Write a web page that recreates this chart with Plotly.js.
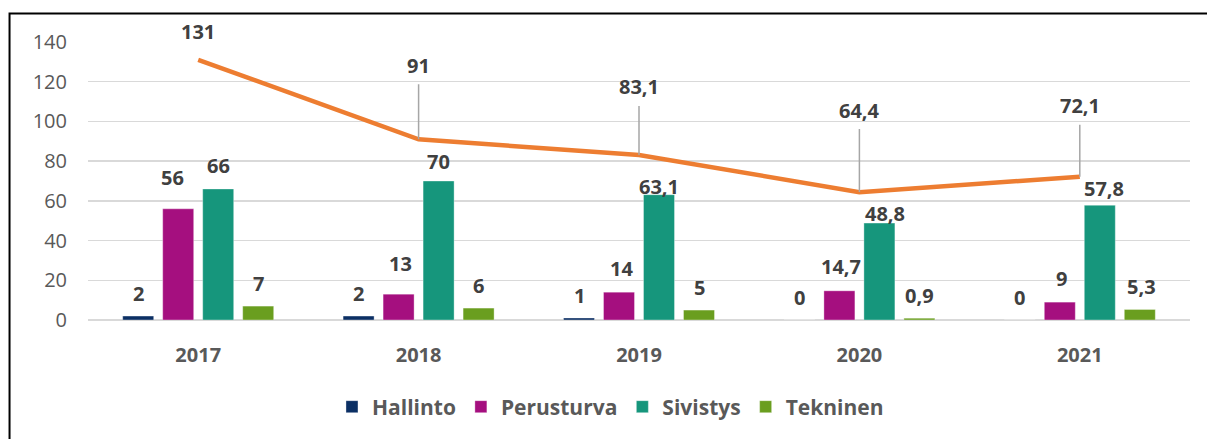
<!DOCTYPE html>
<html>
<head>
<meta charset="utf-8">
<script src="https://cdn.plot.ly/plotly-3.0.1.min.js"></script>
<style>
  html, body { margin: 0; padding: 0; background: #fff; }
  #chart { width: 1207px; height: 439px; }
</style>
</head>
<body>
<div id="chart"></div>
<script>
// ---- data ----
const years = ["2017", "2018", "2019", "2020", "2021"];
const seriesNames = ["Hallinto", "Perusturva", "Sivistys", "Tekninen"];
const hallinto   = [2, 2, 1, 0, 0];
const perusturva = [56, 13, 14, 14.7, 9];
const sivistys   = [66, 70, 63.1, 48.8, 57.8];
const tekninen   = [7, 6, 5, 0.9, 5.3];
const yhteensa   = [131, 91, 83.1, 64.4, 72.1];

// ---- styles ----
const colors = ["#0B2F64", "#A50F7F", "#16967C", "#6A9E1F"];
const lineColor = "#ED7D31";
const FONT = "'Open Sans', 'Lato', sans-serif";
const labelColor = "#404040";
const axisTextColor = "#595959";

const seriesValues = [hallinto, perusturva, sivistys, tekninen];

const traces = seriesValues.map((vals, s) => ({
  type: "bar",
  name: seriesNames[s],
  x: years,
  y: vals,
  marker: { color: colors[s], line: { color: "rgba(255,255,255,0.35)", width: 1 } },
  hoverinfo: "skip"
}));

traces.push({
  type: "scatter",
  mode: "lines",
  name: "Yhteensä",
  x: years,
  y: yhteensa,
  line: { color: lineColor, width: 4.5 },
  showlegend: false,
  hoverinfo: "skip"
});

const fmt = v => String(v).replace(".", ",");

// label placement tweaks (pixels) for bar labels, keyed "series-yearIndex": [dx, dy]
const barLabelTweak = {
  "1-0": [-6, 8], "1-1": [2, 8], "2-1": [0, -3.5],
  "2-2": [0, -15], "2-3": [6, -13], "2-4": [4, -6],
  "1-2": [2, 1], "1-3": [2, 1], "1-4": [2, 1], "3-4": [2, 0]
};
const BAR_PITCH = 40;   // px between bar centres within a group
const BAR_GAP = 23;     // px from bar top to label centre

const annotations = [];
seriesValues.forEach((vals, s) => {
  vals.forEach((v, i) => {
    const t = barLabelTweak[s + "-" + i] || [0, 0];
    annotations.push({
      x: i, y: v, xref: "x", yref: "y",   // category index of years[i]
      text: fmt(v), showarrow: false,
      xanchor: "center", yanchor: "middle",
      xshift: (s - 1.5) * BAR_PITCH + t[0],
      yshift: BAR_GAP + t[1],
      font: { family: FONT, size: 20, color: labelColor, weight: "bold" }
    });
  });
});

// total-line labels with leader lines
const lineLabelOffset = [28, 74, 68, 82, 71];
yhteensa.forEach((v, i) => {
  if (i === 0) {
    annotations.push({
      x: i, y: v, xref: "x", yref: "y",
      text: fmt(v), showarrow: false,
      xanchor: "center", yanchor: "middle", yshift: lineLabelOffset[i],
      font: { family: FONT, size: 20, color: labelColor, weight: "bold" }
    });
  } else {
    annotations.push({
      x: i, y: v, xref: "x", yref: "y",
      text: fmt(v), showarrow: true,
      ax: 0, ay: -lineLabelOffset[i],
      arrowhead: 0, arrowwidth: 1.5, arrowcolor: "#A6A6A6",
      startstandoff: 4,
      font: { family: FONT, size: 20, color: labelColor, weight: "bold" }
    });
  }
});

const layout = {
  width: 1207, height: 439,
  margin: { l: 88, r: 17, t: 42, b: 116 },
  paper_bgcolor: "#ffffff", plot_bgcolor: "#ffffff",
  separators: ", ",
  barmode: "group",
  bargap: 0.274,
  bargroupgap: 0.225,
  font: { family: FONT, color: axisTextColor },
  xaxis: {
    type: "category",
    range: [-0.5, years.length - 0.5],
    showgrid: false, showline: false, zeroline: false,
    ticks: "",
    ticklabelstandoff: 21,
    tickfont: { family: FONT, size: 20, color: axisTextColor, weight: "bold" }
  },
  yaxis: {
    range: [0, 140],
    dtick: 20,
    showgrid: true, gridcolor: "#D9D9D9", gridwidth: 1.5,
    zeroline: true, zerolinecolor: "#D9D9D9", zerolinewidth: 1.5,
    showline: false, ticks: "",
    ticklabelstandoff: 20,
    tickfont: { family: FONT, size: 20, color: axisTextColor }
  },
  showlegend: true,
  legend: {
    orientation: "h",
    x: 0.2214, xanchor: "left",
    y: -0.313, yanchor: "middle",
    font: { family: FONT, size: 21, color: axisTextColor, weight: "bold" },
    traceorder: "normal",
    itemclick: false
  },
  annotations: annotations,
  shapes: [{
    type: "rect", xref: "paper", yref: "paper",
    x0: -0.0712, x1: 1.2, y0: -1.0, y1: 1.1021,
    line: { color: "#000000", width: 2 },
    fillcolor: "rgba(0,0,0,0)", layer: "above"
  }]
};

Plotly.newPlot("chart", traces, layout, { staticPlot: true, displayModeBar: false });
</script>
</body>
</html>
